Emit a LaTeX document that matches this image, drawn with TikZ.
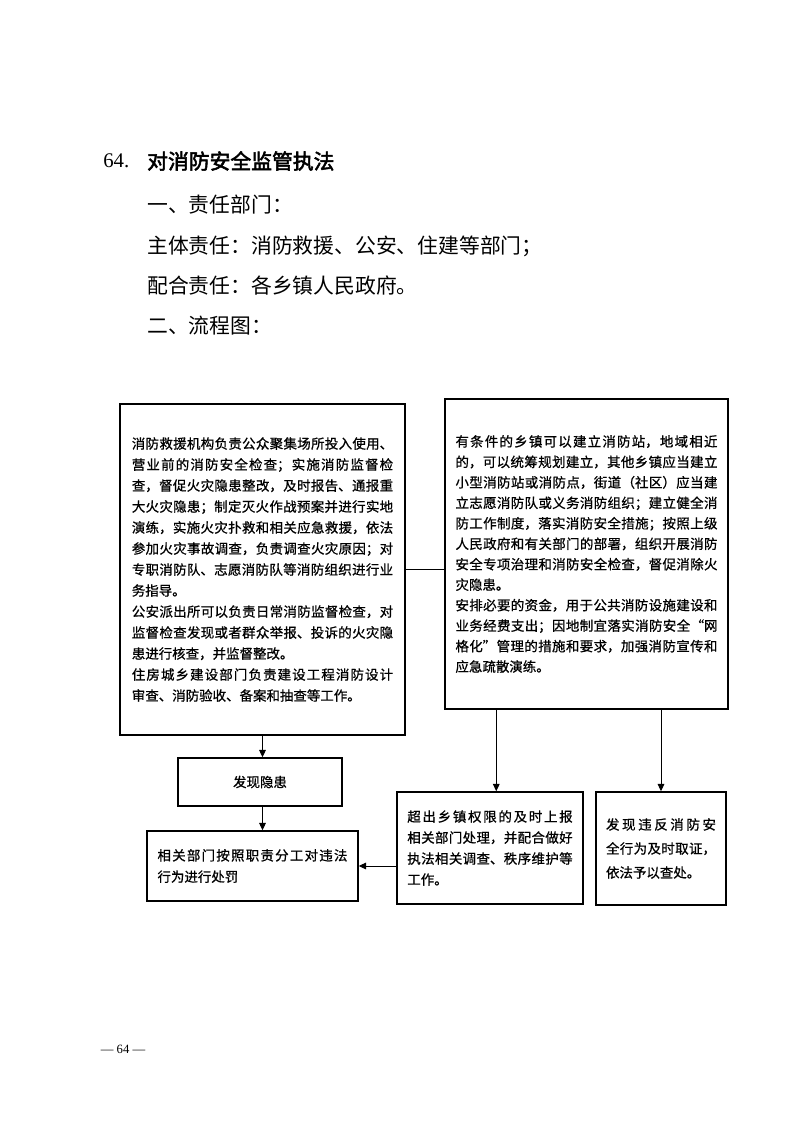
\documentclass[tikz,border=0pt]{standalone}
\usepackage{fontspec}
\setmainfont{Noto Sans CJK SC}[AutoFakeBold=2.5]
\newfontfamily\boxfont{Noto Sans CJK SC}[FakeBold=0.8]
\newfontfamily\latinserif{Liberation Serif}
\XeTeXlinebreaklocale "zh"
\XeTeXlinebreakskip=0pt plus 2pt
\usetikzlibrary{arrows.meta,calc}
\tikzset{
  px/.style={x=0.75pt,y=-0.75pt},
  headline/.style={anchor=west,inner sep=0pt,font=\fontsize{15.6pt}{18pt}\selectfont},
  box/.style={draw,line width=1.1pt,inner sep=0pt,align=justify},
  boxtext/.style={font=\boxfont\fontsize{10.1pt}{#1}\selectfont},
  arr/.style={line width=0.75pt,-{Triangle[length=5.5pt,width=5pt]}},
  conn/.style={line width=0.75pt}
}
\begin{document}
\begin{tikzpicture}[px]
\useasboundingbox (0,0) rectangle (794,1122);
% heading
\node[headline] (num) at (103,161) {\latinserif 64.};
\node[headline] (title) at (147,161) {\bfseries 对消防安全监管执法};
\node[headline] (h1) at (147,205) {一、责任部门：};
\node[headline] (h2) at (147,246) {主体责任：消防救援、公安、住建等部门；};
\node[headline] (h3) at (147,286) {配合责任：各乡镇人民政府。};
\node[headline] (h4) at (147,326) {二、流程图：};
% boxes
\node[box,boxtext=15.75pt,text width=196pt,minimum width=213.75pt,minimum height=248.25pt] (L) at (262.5,569.5) {%
消防救援机构负责公众聚集场所投入使用、\linebreak
营业前的消防安全检查；实施消防监督检\linebreak
查，督促火灾隐患整改，及时报告、通报重\linebreak
大火灾隐患；制定灭火作战预案并进行实地\linebreak
演练，实施火灾扑救和相关应急救援，依法\linebreak
参加火灾事故调查，负责调查火灾原因；对\linebreak
专职消防队、志愿消防队等消防组织进行业\linebreak
务指导。\\
公安派出所可以负责日常消防监督检查，对\linebreak
监督检查发现或者群众举报、投诉的火灾隐\linebreak
患进行核查，并监督整改。\\
住房城乡建设部门负责建设工程消防设计\linebreak
审查、消防验收、备案和抽查等工作。};
\node[box,boxtext=15.35pt,text width=196.5pt,minimum width=212.25pt,minimum height=232.5pt] (R) at (586.5,554) {%
有条件的乡镇可以建立消防站，地域相近\linebreak
的，可以统筹规划建立，其他乡镇应当建立\linebreak
小型消防站或消防点，街道（社区）应当建\linebreak
立志愿消防队或义务消防组织；建立健全消\linebreak
防工作制度，落实消防安全措施；按照上级\linebreak
人民政府和有关部门的部署，组织开展消防\linebreak
安全专项治理和消防安全检查，督促消除火\linebreak
灾隐患。\\
安排必要的资金，用于公共消防设施建设和\linebreak
业务经费支出；因地制宜落实消防安全“网\linebreak
格化”管理的措施和要求，加强消防宣传和\linebreak
应急疏散演练。};
\node[box,boxtext=15pt,align=center,minimum width=123pt,minimum height=36pt] (F) at (260,782) {发现隐患};
\node[box,boxtext=16pt,text width=142.5pt,minimum width=158.25pt,minimum height=52.5pt] (P) at (252.5,866) {%
相关部门按照职责分工对违法\linebreak
行为进行处罚};
\node[box,boxtext=15.75pt,text width=124pt,minimum width=139.5pt,minimum height=84pt] (M) at (490,848) {%
超出乡镇权限的及时上报\linebreak
相关部门处理，并配合做好\linebreak
执法相关调查、秩序维护等\linebreak
工作。};
\node[box,boxtext=18pt,text width=82.5pt,minimum width=97.5pt,minimum height=84.75pt] (S) at (661,848.5) {%
发现违反消防安\linebreak
全行为及时取证，\linebreak
依法予以查处。};
% connectors
\draw[conn] (L.east) -- (L.east -| R.west);
\draw[arr] (L.south) -- (L.south |- F.north);
\draw[arr] (L.south |- F.south) -- (L.south |- P.north);
\path (R.south west) ++(52,0) coordinate (r1);
\draw[arr] (r1) -- (r1 |- M.north);
\draw[arr] (R.south -| S.north) -- (S.north);
\draw[arr] (M.west |- P.east) -- (P.east);
% page number
\node[anchor=center,inner sep=0pt,font=\latinserif\fontsize{9.5pt}{11pt}\selectfont] (pg) at (123,1049) {— 64 —};
\end{tikzpicture}
\end{document}
